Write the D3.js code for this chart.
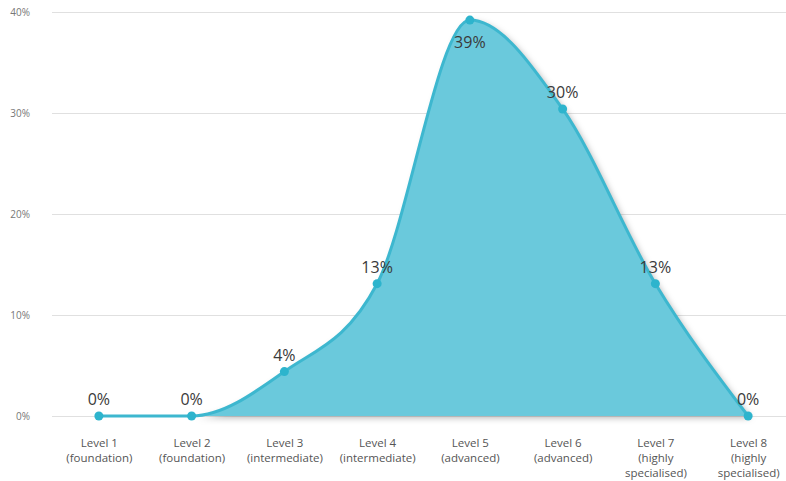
<!DOCTYPE html>
<html>
<head>
<meta charset="utf-8">
<script src="https://cdn.jsdelivr.net/npm/d3@7"></script>
<style>
  html, body { margin: 0; padding: 0; background: #fff; }
  svg { display: block; font-family: "Open Sans", "Noto Sans", sans-serif; }
</style>
</head>
<body>
<svg id="chart" width="786" height="481"></svg>
<script>
// Share of roles by skill level
const levels = ["Level 1", "Level 2", "Level 3", "Level 4", "Level 5", "Level 6", "Level 7", "Level 8"];
const levelNotes = [
  ["(foundation)"], ["(foundation)"], ["(intermediate)"], ["(intermediate)"],
  ["(advanced)"], ["(advanced)"], ["(highly", "specialised)"], ["(highly", "specialised)"]
];
const shares = [0, 0, 4.4, 13.1, 39.2, 30.4, 13.1, 0];
const yTicks = [0, 10, 20, 30, 40];

const svg = d3.select("#chart");
const W = 786, H = 481;

const x = d3.scalePoint().domain(levels).range([52.5, 794.5]).padding(0.5);
const y = d3.scaleLinear().domain([0, 40]).range([416, 12]);

const defs = svg.append("defs");
const shadow = defs.append("filter").attr("id", "shade")
  .attr("x", "-10%").attr("y", "-10%").attr("width", "130%").attr("height", "130%");
shadow.append("feDropShadow")
  .attr("dx", 3).attr("dy", 2).attr("stdDeviation", 3)
  .attr("flood-color", "#000").attr("flood-opacity", 0.28);

// Gridlines and y-axis labels
const yAxis = d3.axisLeft(y).tickValues(yTicks).tickFormat(d => d + "%").tickSize(0);
const gy = svg.append("g").attr("transform", "translate(30,0)").call(yAxis);
gy.select(".domain").remove();
gy.selectAll("text").attr("x", 0).attr("font-size", 10).attr("fill", "#777")
  .attr("font-family", "'Open Sans', 'Noto Sans', sans-serif");

svg.append("g").selectAll("line").data(yTicks).join("line")
  .attr("x1", 52).attr("x2", W)
  .attr("y1", d => y(d) + 0.5).attr("y2", d => y(d) + 0.5)
  .attr("stroke", "#e0e0e0").attr("stroke-width", 1.2);

const pts = levels.map((l, i) => ({ level: l, v: shares[i] }));

const area = d3.area().curve(d3.curveMonotoneX)
  .x(d => x(d.level)).y0(y(0)).y1(d => y(d.v));
const line = d3.line().curve(d3.curveMonotoneX)
  .x(d => x(d.level)).y(d => y(d.v));

svg.append("path").datum(pts).attr("d", area)
  .attr("fill", "#6ac9dc").attr("filter", "url(#shade)");
svg.append("path").datum(pts).attr("d", line)
  .attr("fill", "none").attr("stroke", "#3db7cf").attr("stroke-width", 3)
  .attr("stroke-linejoin", "round");

svg.append("g").selectAll("circle").data(pts).join("circle")
  .attr("cx", d => x(d.level)).attr("cy", d => y(d.v)).attr("r", 4.5)
  .attr("fill", "#2db4cd");

// Value labels (the peak label sits below its point)
svg.append("g").selectAll("text").data(pts).join("text")
  .attr("x", d => x(d.level))
  .attr("y", d => d.v > 35 ? y(d.v) + 28 : y(d.v) - 11)
  .attr("text-anchor", "middle").attr("font-size", 16).attr("fill", "#3a3a3a")
  .text(d => Math.round(d.v) + "%");

// Category labels, one text element per line
const xAxis = d3.axisBottom(x).tickSize(0).tickFormat("");
const gx = svg.append("g").attr("transform", "translate(0,416)").call(xAxis);
gx.select(".domain").remove();
gx.selectAll(".tick").each(function (d, i) {
  const tick = d3.select(this);
  [d].concat(levelNotes[i]).forEach((s, k) => {
    tick.append("text")
      .attr("x", 0).attr("y", 31 + k * 15)
      .attr("text-anchor", "middle").attr("font-size", 11.5).attr("fill", "#555")
      .attr("font-family", "'Open Sans', 'Noto Sans', sans-serif")
      .text(s);
  });
});
</script>
</body>
</html>
